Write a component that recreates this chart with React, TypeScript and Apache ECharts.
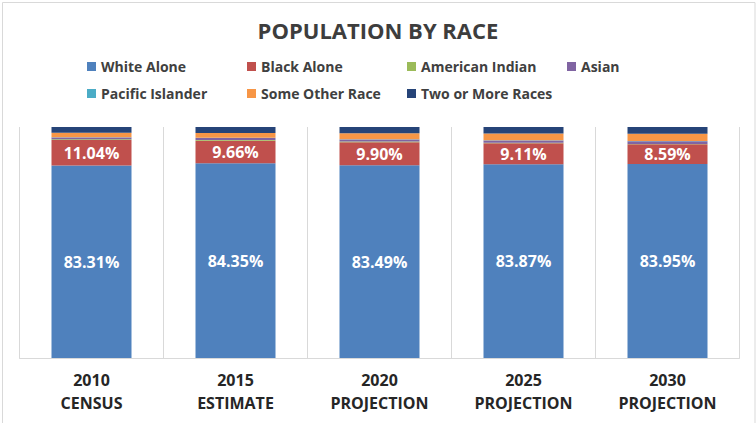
import React, { useEffect, useRef } from "react";
import * as echarts from "echarts";

const categories = ["2010\nCENSUS", "2015\nESTIMATE", "2020\nPROJECTION", "2025\nPROJECTION", "2030\nPROJECTION"];
const whiteAlone = [83.31, 84.35, 83.49, 83.87, 83.95];
const blackAlone = [11.04, 9.66, 9.9, 9.11, 8.59];
const americanIndian = [0.35, 0.35, 0.3, 0.2, 0.14];
const asian = [0.8, 0.9, 0.9, 1.0, 1.1];
const pacificIslander = [0.1, 0.1, 0.11, 0.12, 0.12];
const someOtherRace = [1.9, 2.04, 2.6, 2.9, 3.2];
const twoOrMore = [2.5, 2.6, 2.7, 2.8, 2.9];

const seriesNames = ["White Alone", "Black Alone", "American Indian", "Asian", "Pacific Islander", "Some Other Race", "Two or More Races"];
const seriesData = [whiteAlone, blackAlone, americanIndian, asian, pacificIslander, someOtherRace, twoOrMore];
const colors = ["#4F81BD", "#C0504D", "#9BBB59", "#8064A2", "#4BACC6", "#F79646", "#264478"];
const labelled = [true, true, false, false, false, false, false];
const legendPos = [
  [87, 58.5], [247, 58.5], [407, 58.5], [567, 58.5],
  [87, 85.5], [247, 85.5], [407, 85.5],
];

export default function App() {
  const ref = useRef<HTMLDivElement>(null);
  useEffect(() => {
    if (!ref.current) return;
    const chart = echarts.init(ref.current, undefined, { renderer: "svg" });
    const font = "'Open Sans', 'Liberation Sans', sans-serif";
    chart.setOption({
      animation: false,
      backgroundColor: "#ffffff",
      textStyle: { fontFamily: font },
      title: {
        text: "POPULATION BY RACE",
        left: "center",
        top: 14,
        textStyle: { fontSize: 22, fontWeight: "bold", color: "#3d3d3d", fontFamily: font },
      },
      legend: seriesNames.map((name, i) => ({
        data: [name],
        left: legendPos[i][0],
        top: legendPos[i][1],
        itemWidth: 9,
        itemHeight: 9,
        itemGap: 0,
        icon: "rect",
        textStyle: { fontSize: 14, fontWeight: "bold", color: "#404040", fontFamily: font, lineHeight: 16 },
        padding: 0,
      })),
      grid: { left: 19.5, right: 16.5, top: 127, bottom: 65, containLabel: false },
      xAxis: {
        type: "category",
        data: categories,
        axisLine: { show: true, lineStyle: { color: "#d9d9d9", width: 1 } },
        axisTick: { show: false },
        splitLine: { show: true, lineStyle: { color: "#d9d9d9", width: 1 } },
        axisLabel: {
          margin: 10,
          fontSize: 16,
          fontWeight: "bold",
          color: "#262626",
          lineHeight: 23,
          fontFamily: font,
          interval: 0,
        },
      },
      yAxis: { type: "value", min: 0, max: 100, show: false, splitLine: { show: false } },
      graphic: [
        {
          type: "rect",
          shape: { x: 2.5, y: 2.5, width: 752.5, height: 430 },
          style: { fill: "none", stroke: "#d9d9d9", lineWidth: 1 },
          silent: true,
          z: -1,
        },
      ],
      series: seriesNames.map((name, i) => ({
        name,
        type: "bar",
        stack: "total",
        barWidth: 80,
        data: seriesData[i],
        itemStyle: { color: colors[i] },
        label: labelled[i]
          ? {
              show: true,
              position: "inside",
              formatter: (p: any) => p.value.toFixed(2) + "%",
              color: "#ffffff",
              fontSize: 16,
              fontWeight: "bold",
              fontFamily: font,
            }
          : { show: false },
      })),
    });
    return () => chart.dispose();
  }, []);
  return <div ref={ref} style={{ position: "fixed", left: 0, top: 0, width: 756, height: 423 }} />;
}
